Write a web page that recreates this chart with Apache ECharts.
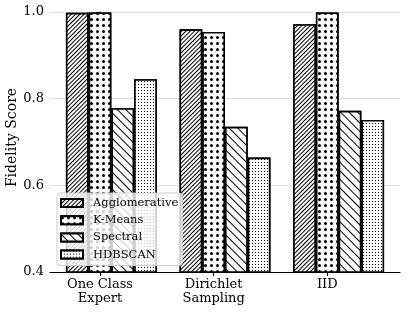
<!DOCTYPE html>
<html>
<head>
<meta charset="utf-8">
<script src="https://cdn.jsdelivr.net/npm/echarts@6/dist/echarts.min.js"></script>
<style>
  html, body { margin: 0; padding: 0; background: #fff; }
  #chart { width: 407px; height: 313px; }
</style>
</head>
<body>
<div id="chart"></div>
<script>
// ---- data ----
const categories = ['One Class\nExpert', 'Dirichlet\nSampling', 'IID'];
const categoryPositions = [0, 1, 2];
const seriesNames = ['Agglomerative', 'K-Means', 'Spectral', 'HDBSCAN'];
const agglomerative = [0.998, 0.960, 0.972];
const kmeans = [0.999, 0.954, 0.999];
const spectral = [0.778, 0.735, 0.772];
const hdbscan = [0.845, 0.664, 0.751];
const yTicks = [0.4, 0.6, 0.8, 1.0];

const FONT = 'DejaVu Serif';

// layout
const W = 407, H = 313;
const plot = { left: 50, right: 7, top: 12, bottom: 41 };
const xMin = -0.44, xMax = 2.64;
const unit = (W - plot.left - plot.right) / (xMax - xMin);
const barGrid = {
  left: plot.left + (-0.5 - xMin) * unit,
  right: plot.right + (xMax - (categoryPositions.length - 0.5)) * unit,
  top: plot.top, bottom: plot.bottom
};

const decals = {
  'Agglomerative': { symbol: 'rect', symbolSize: 1, dashArrayX: [1, 0], dashArrayY: [1, 2], rotation: -Math.PI / 4, color: '#000', backgroundColor: '#fff' },
  'K-Means': { symbol: 'circle', symbolSize: 1, dashArrayX: [3, 3], dashArrayY: [3, 3], rotation: 0, color: '#000', backgroundColor: '#fff' },
  'Spectral': { symbol: 'rect', symbolSize: 1, dashArrayX: [1, 0], dashArrayY: [1, 5], rotation: Math.PI / 4, color: '#000', backgroundColor: '#fff' },
  'HDBSCAN': { symbol: 'rect', symbolSize: 1, dashArrayX: [1, 2], dashArrayY: [1, 2], rotation: 0, color: '#000', backgroundColor: '#fff' }
};

const valuesByName = {
  'Agglomerative': agglomerative,
  'K-Means': kmeans,
  'Spectral': spectral,
  'HDBSCAN': hdbscan
};

function makeSeries(name) {
  return {
    type: 'bar',
    name: name,
    xAxisIndex: 1,
    yAxisIndex: 1,
    barWidth: '20%',
    barGap: '0%',
    data: valuesByName[name],
    itemStyle: {
      color: '#fff',
      borderColor: '#000',
      borderWidth: 1.6,
      decal: decals[name]
    },
    emphasis: { disabled: true }
  };
}

const series = [
  // empty placeholder slot so the group sits like the original's offsets
  { type: 'bar', name: '_pad', xAxisIndex: 1, yAxisIndex: 1, barWidth: '20%', barGap: '0%', data: [], silent: true }
].concat(seriesNames.map(makeSeries));

const chart = echarts.init(document.getElementById('chart'), null, { renderer: 'canvas' });
chart.setOption({
  animation: false,
  backgroundColor: '#fff',
  grid: [
    { left: plot.left, right: plot.right, top: plot.top, bottom: plot.bottom, containLabel: false, outerBoundsMode: 'none' },
    { left: barGrid.left, right: barGrid.right, top: barGrid.top, bottom: barGrid.bottom, containLabel: false, outerBoundsMode: 'none' }
  ],
  legend: {
    data: seriesNames,
    orient: 'vertical',
    left: 57,
    top: 193,
    padding: [3, 4, 4, 3],
    itemWidth: 22,
    itemHeight: 8,
    itemGap: 3.2,
    icon: 'rect',
    backgroundColor: 'rgba(255,255,255,0.8)',
    borderColor: '#cccccc',
    borderWidth: 1,
    borderRadius: 3,
    textStyle: { fontFamily: FONT, fontSize: 11.5, color: '#000', lineHeight: 14, padding: [0, 0, 0, 5] }
  },
  xAxis: [
    {
      type: 'value',
      gridIndex: 0,
      min: xMin,
      max: xMax,
      axisLine: { show: true, lineStyle: { color: '#000', width: 1.2 } },
      axisTick: { show: true, customValues: categoryPositions, length: 4, lineStyle: { color: '#000', width: 1.1 } },
      axisLabel: {
        show: true,
        customValues: categoryPositions,
        formatter: (v) => categories[Math.round(v)],
        fontFamily: FONT, fontSize: 13, color: '#000', lineHeight: 13.5, margin: 6
      },
      splitLine: { show: false }
    },
    {
      type: 'category',
      gridIndex: 1,
      data: categories,
      show: false
    }
  ],
  yAxis: [
    {
      type: 'value',
      gridIndex: 0,
      min: 0.4,
      max: 1.0,
      interval: 0.2,
      name: 'Fidelity Score',
      nameLocation: 'middle',
      nameGap: 30.5,
      nameMoveOverlap: false,
      nameTextStyle: { fontFamily: FONT, fontSize: 14, color: '#000', padding: [0, 0, 0, 9] },
      axisLine: { show: true, lineStyle: { color: '#000', width: 1.2 } },
      axisTick: { show: true, length: 4, lineStyle: { color: '#000', width: 1.1 } },
      axisLabel: {
        fontFamily: FONT, fontSize: 13, color: '#000', margin: 6,
        formatter: (v) => yTicks.find(t => Math.abs(t - v) < 1e-9).toFixed(1)
      },
      splitLine: { show: true, lineStyle: { color: '#e0e0e0', width: 1 } }
    },
    {
      type: 'value',
      gridIndex: 1,
      min: 0.4,
      max: 1.0,
      show: false,
      splitLine: { show: false }
    }
  ],
  series: series
});
</script>
</body>
</html>
